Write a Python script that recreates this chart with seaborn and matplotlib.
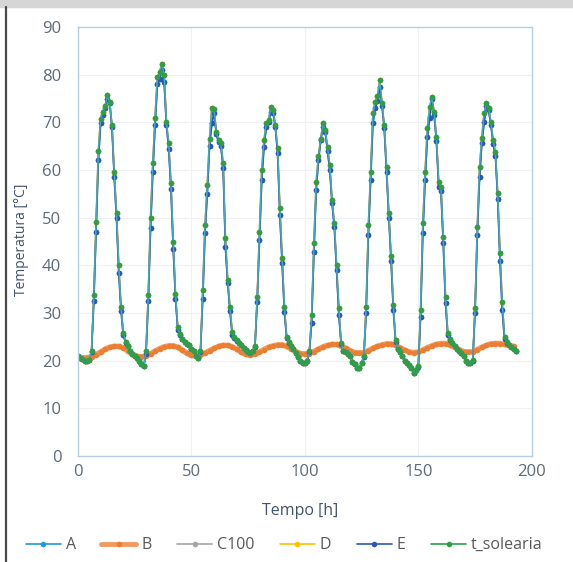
# Recreate the temperature chart (hourly series over ~8 days)

import matplotlib
matplotlib.use("Agg")
import matplotlib.pyplot as plt
from matplotlib.lines import Line2D
import numpy as np
import seaborn as sns

# t_solearia, hourly from h=0 (one row per day)
t_solearia = [
    21.0, 20.5, 20.3, 20.0, 20.0, 20.2, 22.0, 33.8, 49.0, 64.0, 70.8, 72.2, 73.5, 75.7, 74.2, 69.4, 59.5, 51.0, 40.0, 31.3, 25.8, 24.0, 23.0, 22.0,
    21.5, 21.0, 20.5, 20.0, 19.2, 18.8, 22.0, 33.8, 50.0, 61.4, 71.0, 79.5, 80.5, 82.3, 80.0, 70.0, 65.6, 57.2, 45.0, 34.0, 27.0, 25.5, 24.5, 24.0,
    23.5, 23.3, 22.5, 22.0, 21.0, 20.5, 22.0, 34.8, 48.4, 56.8, 66.6, 73.0, 72.7, 68.0, 66.2, 65.6, 61.5, 45.7, 37.0, 31.3, 26.0, 25.0, 24.3, 23.7,
    23.2, 22.7, 22.3, 21.8, 21.6, 22.0, 23.0, 33.3, 47.0, 60.0, 66.2, 69.8, 70.4, 73.2, 72.5, 69.4, 64.6, 52.0, 41.5, 31.2, 25.0, 24.0, 23.0, 22.5,
    21.7, 20.8, 20.0, 19.5, 19.5, 20.0, 22.0, 29.5, 44.6, 57.5, 63.0, 66.5, 69.8, 68.3, 64.8, 61.0, 53.7, 48.8, 40.0, 31.0, 23.7, 22.0, 21.8, 21.5,
    21.0, 19.8, 19.2, 18.5, 18.4, 19.5, 21.0, 31.2, 48.4, 59.5, 71.9, 74.2, 75.5, 78.8, 74.0, 69.4, 60.6, 51.0, 42.0, 31.7, 24.3, 22.5, 21.8, 21.0,
    20.0, 19.5, 19.0, 18.5, 17.5, 18.0, 18.8, 30.6, 48.8, 59.5, 68.8, 73.2, 75.3, 72.1, 66.9, 57.4, 56.4, 46.0, 33.4, 25.8, 24.5, 23.7, 23.0, 22.5,
    22.0, 21.6, 21.0, 20.0, 19.6, 19.5, 20.2, 31.0, 48.0, 60.6, 66.7, 71.9, 74.0, 73.0, 70.0, 66.2, 63.7, 55.1, 42.6, 32.3, 25.0, 24.0, 23.2, 22.9, 22.5, 22.0,
]

# blue markers (A and E sit just under the green curve on the slopes)
t_blue = [
    21.0, 20.5, 20.3, 20.0, 20.0, 20.2, 21.8, 32.5, 47.0, 62.0, 69.8, 71.5, 73.0, 75.0, 74.0, 69.0, 58.5, 50.0, 38.5, 30.5, 25.3, 23.8, 23.0, 22.0,
    21.5, 21.0, 20.5, 20.0, 19.2, 18.8, 21.5, 32.5, 47.8, 59.5, 69.4, 78.0, 79.0, 81.0, 78.5, 69.5, 64.5, 56.0, 43.5, 33.0, 26.5, 25.3, 24.5, 24.0,
    23.5, 23.3, 22.5, 22.0, 21.0, 20.5, 21.8, 33.0, 46.7, 55.0, 65.0, 69.8, 72.0, 67.5, 65.8, 65.0, 60.5, 43.8, 36.3, 30.5, 25.4, 24.7, 24.2, 23.7,
    23.2, 22.7, 22.3, 21.8, 21.6, 22.0, 22.8, 32.3, 45.3, 57.9, 64.8, 69.0, 70.0, 72.2, 72.0, 69.0, 63.5, 50.5, 40.5, 30.2, 24.7, 23.8, 23.0, 22.5,
    21.7, 20.8, 20.0, 19.5, 19.5, 20.0, 21.8, 28.0, 42.8, 55.8, 62.0, 66.2, 69.0, 68.0, 64.0, 60.0, 53.0, 48.0, 39.0, 29.6, 23.5, 22.0, 21.8, 21.5,
    21.0, 19.8, 19.2, 18.5, 18.4, 19.5, 20.8, 30.0, 46.3, 57.9, 69.8, 73.0, 74.5, 77.4, 73.5, 68.8, 59.5, 50.0, 41.0, 30.6, 24.0, 22.5, 21.8, 21.0,
    20.0, 19.5, 19.0, 18.5, 17.5, 18.0, 18.6, 29.2, 46.7, 57.9, 66.9, 71.0, 74.8, 71.5, 66.0, 56.4, 55.5, 44.6, 32.0, 25.3, 24.3, 23.7, 23.0, 22.5,
    22.0, 21.6, 21.0, 20.0, 19.6, 19.5, 20.0, 30.0, 46.3, 58.5, 65.6, 70.0, 73.5, 72.5, 69.5, 65.5, 63.0, 54.0, 41.0, 30.6, 24.5, 23.8, 23.2, 22.9, 22.5, 22.0,
]

# B, every 2 hours
t_B = [
    20.7, 20.6, 20.6, 20.8, 21.2, 21.8, 22.4, 22.8, 23.0, 23.0, 22.7, 22.1,
    21.4, 20.9, 20.8, 21.0, 21.4, 22.0, 22.5, 22.9, 23.1, 23.1, 22.8, 22.2,
    21.6, 21.1, 21.0, 21.2, 21.6, 22.1, 22.6, 23.0, 23.2, 23.2, 22.9, 22.4,
    21.8, 21.3, 21.2, 21.4, 21.8, 22.3, 22.8, 23.1, 23.3, 23.3, 23.0, 22.5,
    21.9, 21.5, 21.4, 21.5, 21.9, 22.4, 22.9, 23.2, 23.4, 23.4, 23.1, 22.6,
    22.1, 21.7, 21.6, 21.7, 22.1, 22.6, 23.0, 23.3, 23.5, 23.5, 23.2, 22.7,
    22.2, 21.8, 21.7, 21.8, 22.2, 22.7, 23.1, 23.4, 23.6, 23.6, 23.3, 22.8,
    22.3, 21.9, 21.8, 21.9, 22.3, 22.8, 23.2, 23.5, 23.6, 23.6, 23.4, 23.2, 23.0,
]

hours = np.arange(len(t_solearia))
hours_B = np.arange(len(t_B)) * 2

series_names = ["A", "B", "C100", "D", "E", "t_solearia"]
series_colors = ["#1f9ae0", "#ed7d31", "#a5a5a5", "#ffc000", "#2a58b8", "#2e9e48"]

sns.set_theme(style="white")
plt.rcParams["font.family"] = ["Open Sans", "DejaVu Sans"]

fig = plt.figure(figsize=(5.73, 5.62), dpi=100)
ax = fig.add_axes([0.136, 0.1886, 0.792, 0.7633])

# grey band on top and dark rule on the left
fig.patches.append(plt.Rectangle((0, 0.9875), 1, 0.0125, transform=fig.transFigure,
                                 color="#d6d6d6", zorder=0))
fig.add_artist(plt.Line2D([0.0105, 0.0105], [0, 0.9875], transform=fig.transFigure,
                          color="#4a4a4a", lw=1.6))

line_kw = dict(marker="o", markersize=4, markeredgewidth=0, linewidth=1.2)

sns.lineplot(x=hours, y=t_blue, ax=ax, color=series_colors[0], **line_kw)
sns.lineplot(x=hours_B, y=t_B, ax=ax, color="#f19a5e", marker="o",
             markersize=4, markerfacecolor=series_colors[1], markeredgewidth=0, linewidth=4)
sns.lineplot(x=hours, y=t_solearia, ax=ax, color=series_colors[2], **line_kw)
sns.lineplot(x=hours, y=t_solearia, ax=ax, color=series_colors[3], **line_kw)
sns.lineplot(x=hours, y=t_blue, ax=ax, color=series_colors[4], **line_kw)
sns.lineplot(x=hours, y=t_solearia, ax=ax, color="#45aab8", marker="o", markersize=4,
             markerfacecolor=series_colors[5], markeredgewidth=0, linewidth=1.1)

ax.set_xlim(0, 200)
ax.set_ylim(0, 90)
ax.set_xticks(range(0, 201, 50))
ax.set_yticks(range(0, 91, 10))
ax.grid(True, color="#eef2f6", linewidth=0.8)
for s in ax.spines.values():
    s.set_color("#b8cde0")
    s.set_linewidth(1.0)
ax.tick_params(axis="both", length=0, labelsize=12, colors="#5d6b78")
ax.tick_params(axis="y", pad=12)
ax.tick_params(axis="x", pad=6)

ax.set_xlabel("Tempo [h]", fontsize=11.5, color="#44546a")
ax.set_ylabel("Temperatura [°C]", fontsize=10, color="#44546a")
ax.xaxis.set_label_coords(0.489, -0.11)
ax.yaxis.set_label_coords(-0.108, 0.503)

# legend entries
handles = []
for name, col in zip(series_names, series_colors):
    if name == "B":
        h = Line2D([], [], color="#f19a5e", lw=3.5, marker="o", markersize=4,
                   markerfacecolor=col, markeredgewidth=0)
    else:
        h = Line2D([], [], color=col, lw=1.2, marker="o", markersize=4,
                   markeredgewidth=0)
    handles.append(h)
fig.legend(handles, series_names, loc="center", bbox_to_anchor=(0.496, 0.03), ncol=6,
           frameon=False, fontsize=11.5, handlelength=2.2, columnspacing=1.6,
           handletextpad=0.3, labelcolor="#595959")

fig.savefig("out.png", dpi=100)
